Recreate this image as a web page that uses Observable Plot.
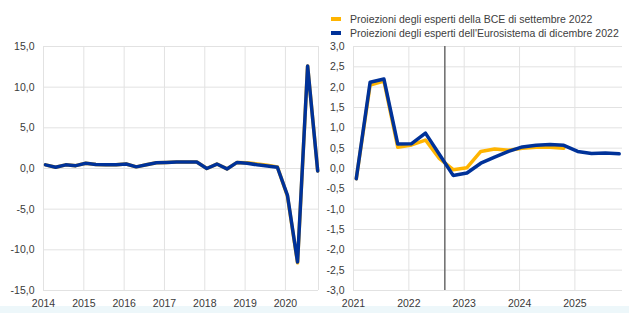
<!DOCTYPE html>
<html>
<head>
<meta charset="utf-8">
<script src="https://cdn.jsdelivr.net/npm/d3@7"></script>
<script src="https://cdn.jsdelivr.net/npm/@observablehq/plot@0.6"></script>
<style>
  html, body { margin: 0; padding: 0; background: #fff; }
  #wrap { position: relative; width: 629px; height: 313px; overflow: hidden; font-family: "Liberation Sans", Arial, sans-serif; }
  #strip { position: absolute; left: 0; top: 306px; width: 629px; height: 7px; background: #edf7fa; }
  .plot { position: absolute; top: 0; }
  .leg { position: absolute; left: 331px; font-size: 10.5px; line-height: 14px; color: #404040; white-space: nowrap; }
  .sw { display: inline-block; width: 10px; height: 3.5px; vertical-align: middle; margin-right: 9px; position: relative; top: -1px; }
</style>
</head>
<body>
<div id="wrap">
  <div id="strip"></div>
</div>
<script>
// ---- data ----
const histPeriods = ["2014Q1","2014Q2","2014Q3","2014Q4","2015Q1","2015Q2","2015Q3","2015Q4",
  "2016Q1","2016Q2","2016Q3","2016Q4","2017Q1","2017Q2","2017Q3","2017Q4",
  "2018Q1","2018Q2","2018Q3","2018Q4","2019Q1","2019Q2","2019Q3","2019Q4",
  "2020Q1","2020Q2","2020Q3","2020Q4"];
const histDec = [0.45,0.15,0.45,0.35, 0.65,0.5,0.45,0.45, 0.55,0.2,0.45,0.7,
  0.75,0.8,0.8,0.8, 0.0,0.55,-0.05,0.75, 0.65,0.45,0.3,0.15, -3.3,-11.5,12.6,-0.3];
const histSep = [0.45,0.15,0.45,0.35, 0.65,0.5,0.45,0.45, 0.55,0.2,0.45,0.7,
  0.75,0.8,0.8,0.8, 0.0,0.55,-0.05,0.75, 0.7,0.55,0.4,0.2, -3.4,-11.6,12.6,-0.3];

const projPeriods = ["2021Q1","2021Q2","2021Q3","2021Q4","2022Q1","2022Q2","2022Q3","2022Q4",
  "2023Q1","2023Q2","2023Q3","2023Q4","2024Q1","2024Q2","2024Q3","2024Q4",
  "2025Q1","2025Q2","2025Q3","2025Q4"];
const projDec = [-0.25,2.12,2.2,0.6, 0.61,0.87,0.35,-0.17, -0.11,0.13,0.28,0.42,
  0.53,0.57,0.59,0.57, 0.42,0.37,0.38,0.36];
const projSep = [-0.25,2.05,2.15,0.52, 0.58,0.7,0.25,-0.03, 0.02,0.42,0.48,0.45,
  0.5,0.52,0.52,0.5];

const leftYears = [2014,2015,2016,2017,2018,2019,2020];
const rightYears = [2021,2022,2023,2024,2025];
const leftYTicks = [-15,-10,-5,0,5,10,15];
const rightYTicks = [-3,-2.5,-2,-1.5,-1,-0.5,0,0.5,1,1.5,2,2.5,3];
const projectionStart = 2022.65;

const seriesNames = ["Proiezioni degli esperti della BCE di settembre 2022",
                     "Proiezioni degli esperti dell'Eurosistema di dicembre 2022"];
const colors = ["#ffb400", "#003299"];

// ---- helpers ----
const toT = p => +p.slice(0,4) + (+p.slice(5) - 1) / 4 + 0.05;
const rows = (periods, vals) => vals.map((v, i) => ({t: toT(periods[i]), v}));
const fmt = d => d.toFixed(1).replace(".", ",");
const style = {fontFamily: "'Liberation Sans', Arial, sans-serif", fontSize: "10.5px", color: "#3a3a3a", background: "transparent", overflow: "visible"};
const gridColor = "#e2e2e2";

function panel({width, marginLeft, marginRight, xDomain, years, yDomain, yTicks, sep, dec, extra, gridXVals}) {
  return Plot.plot({
    width, height: 313,
    marginLeft, marginRight, marginTop: 46, marginBottom: 23,
    style,
    x: {domain: xDomain, ticks: years, tickFormat: d => String(d), tickSize: 0, tickPadding: 9, label: null},
    y: {domain: yDomain, ticks: yTicks, tickFormat: fmt, tickSize: 0, tickPadding: 9, label: null},
    marks: [
      Plot.ruleX(gridXVals, {stroke: gridColor, strokeWidth: 1}),
      Plot.ruleY(yTicks, {stroke: gridColor, strokeWidth: 1}),
      ...(extra || []),
      Plot.line(sep, {x: "t", y: "v", stroke: colors[0], strokeWidth: 3.5, strokeLinejoin: "round", strokeLinecap: "round"}),
      Plot.line(dec, {x: "t", y: "v", stroke: colors[1], strokeWidth: 3.5, strokeLinejoin: "round", strokeLinecap: "round"})
    ]
  });
}

const wrap = document.getElementById("wrap");

const left = panel({
  width: 320, marginLeft: 43, marginRight: 2,
  xDomain: [2014, 2020.82], years: leftYears,
  yDomain: [-15, 15], yTicks: leftYTicks,
  sep: rows(histPeriods, histSep), dec: rows(histPeriods, histDec),
  gridXVals: [...leftYears, 2020.82]
});
left.classList.add("plot");
left.style.left = "0px";
wrap.appendChild(left);

const right = panel({
  width: 309, marginLeft: 33, marginRight: 7,
  xDomain: [2021, 2025.86], years: rightYears,
  yDomain: [-3, 3], yTicks: rightYTicks,
  sep: rows(projPeriods, projSep), dec: rows(projPeriods, projDec),
  gridXVals: rightYears,
  extra: [Plot.ruleX([projectionStart], {stroke: "#6a6a6a", strokeWidth: 1.5})]
});
right.classList.add("plot");
right.style.left = "320px";
wrap.appendChild(right);

// legend
seriesNames.forEach((name, i) => {
  const d = document.createElement("div");
  d.className = "leg";
  d.style.top = (12 + i * 13.7) + "px";
  const sw = document.createElement("span");
  sw.className = "sw";
  sw.style.background = colors[i];
  d.appendChild(sw);
  d.appendChild(document.createTextNode(name));
  wrap.appendChild(d);
});
</script>
</body>
</html>
